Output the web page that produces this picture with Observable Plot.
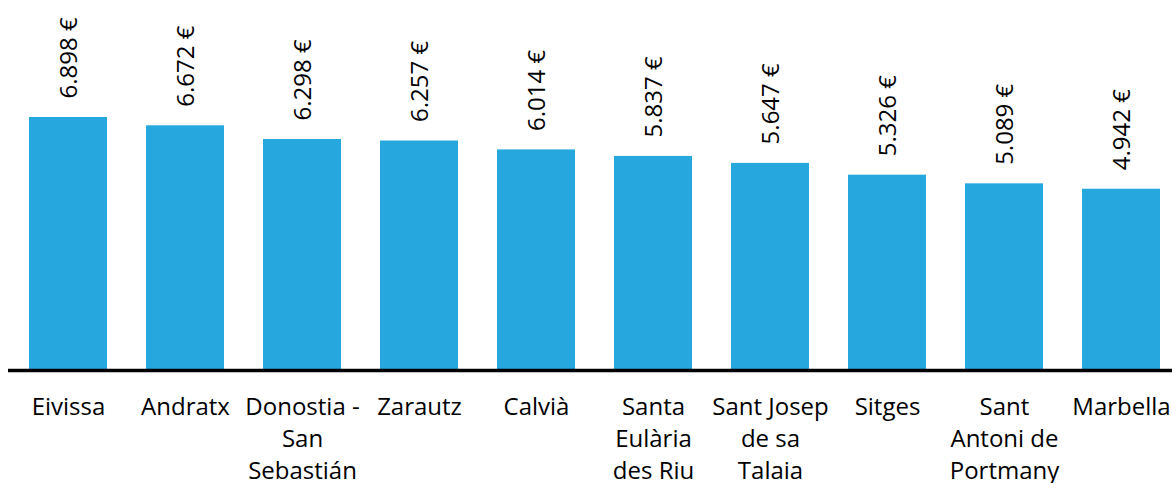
<!DOCTYPE html>
<html>
<head>
<meta charset="utf-8">
<script src="https://cdn.jsdelivr.net/npm/d3@7"></script>
<script src="https://cdn.jsdelivr.net/npm/@observablehq/plot@0.6"></script>
<style>
  html, body { margin: 0; padding: 0; background: #fff; }
  #chart svg { display: block; font-family: "Open Sans", sans-serif; }
</style>
</head>
<body>
<div id="chart"></div>
<script>
const municipios = ["Eivissa", "Andratx", "Donostia - San Sebastián", "Zarautz", "Calvià", "Santa Eulària des Riu", "Sant Josep de sa Talaia", "Sitges", "Sant Antoni de Portmany", "Marbella"];
const etiquetas = ["Eivissa", "Andratx", "Donostia -\nSan\nSebastián", "Zarautz", "Calvià", "Santa\nEulària\ndes Riu", "Sant Josep\nde sa\nTalaia", "Sitges", "Sant\nAntoni de\nPortmany", "Marbella"];
const precios = [6898, 6672, 6298, 6257, 6014, 5837, 5647, 5326, 5089, 4942];

const data = municipios.map((m, i) => ({municipio: m, precio: precios[i]}));
const labelOf = new Map(municipios.map((m, i) => [m, etiquetas[i]]));

const locale = d3.formatLocale({decimal: ",", thousands: ".", grouping: [3], currency: ["", " €"]});
const fmt = locale.format("$,.0f");

const chart = Plot.plot({
  width: 1172,
  height: 483,
  marginTop: 0,
  marginBottom: 113,
  marginLeft: 8,
  marginRight: 0,
  style: {fontFamily: "'Open Sans', sans-serif", background: "#fff", color: "#000"},
  x: {domain: municipios, paddingInner: 0.335, paddingOuter: 0.1335, align: 0.64, axis: null},
  y: {domain: [0, 10088], axis: null},
  marks: [
    Plot.barY(data, {x: "municipio", y: "precio", fill: "#26a7de"}),
    Plot.ruleY([0], {stroke: "#000", strokeWidth: 3.5}),
    Plot.text(data, {
      x: "municipio", y: "precio", text: d => fmt(d.precio),
      rotate: -90, textAnchor: "start", dy: -19, dx: 1,
      fontSize: 24, fill: "#000"
    }),
    Plot.axisX({
      anchor: "bottom", tickSize: 0, tickPadding: 22, fontSize: 24, label: null,
      lineHeight: 1.333, tickFormat: d => labelOf.get(d), fill: "#000"
    })
  ]
});
document.getElementById("chart").append(chart);
</script>
</body>
</html>
